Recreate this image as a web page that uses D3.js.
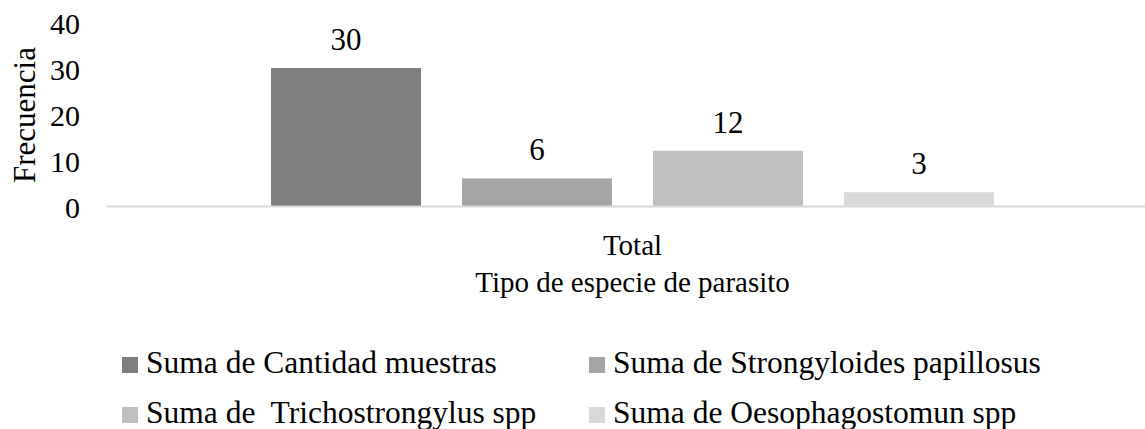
<!DOCTYPE html>
<html>
<head>
<meta charset="utf-8">
<script src="https://cdn.jsdelivr.net/npm/d3@7"></script>
<style>
  body { margin: 0; background: #fff; }
  svg text { font-family: "Liberation Serif", "Times New Roman", serif; fill: #000; }
</style>
</head>
<body>
<svg id="chart"></svg>
<script>
var categories = ["Total"];
var series = ["Suma de Cantidad muestras", "Suma de Strongyloides papillosus", "Suma de  Trichostrongylus spp", "Suma de Oesophagostomun spp"];
var values = [30, 6, 12, 3];
var colors = ["#7f7f7f", "#a5a5a5", "#bfbfbf", "#d9d9d9"];
var yTicks = [0, 10, 20, 30, 40];

var width = 1145, height = 429;
var svg = d3.select("#chart").attr("width", width).attr("height", height);

var plotLeft = 107, plotRight = 1158, plotTop = 22, plotBottom = 206;

var x0 = d3.scaleBand().domain(categories).range([plotLeft, plotRight]).paddingOuter(0.2268);
var x1 = d3.scaleBand().domain(series).range([0, x0.bandwidth()]).paddingInner(0.2147).paddingOuter(0);
var y = d3.scaleLinear().domain([0, 40]).range([plotBottom, plotTop]);

// y tick labels (no axis line in the original)
svg.append("g").selectAll("text")
    .data(yTicks)
  .enter().append("text")
    .attr("x", 80)
    .attr("y", function(d) { return y(d) + 12; })
    .attr("text-anchor", "end")
    .style("font-size", "30px")
    .text(function(d) { return d; });

// bars
var g = svg.append("g");
categories.forEach(function(c) {
  var grp = g.append("g").attr("transform", "translate(" + x0(c) + ",0)");
  grp.selectAll("rect")
      .data(series)
    .enter().append("rect")
      .attr("x", function(s) { return x1(s); })
      .attr("width", x1.bandwidth())
      .attr("y", function(s, i) { return y(values[i]); })
      .attr("height", function(s, i) { return y(0) - y(values[i]); })
      .attr("fill", function(s, i) { return colors[i]; });
  grp.selectAll("text")
      .data(series)
    .enter().append("text")
      .attr("x", function(s) { return x1(s) + x1.bandwidth() / 2; })
      .attr("y", function(s, i) { return y(values[i]) - 18; })
      .attr("text-anchor", "middle")
      .style("font-size", "31px")
      .text(function(s, i) { return values[i]; });
});

// x axis line
svg.append("line")
    .attr("x1", plotLeft).attr("x2", plotRight)
    .attr("y1", y(0) + 0.5).attr("y2", y(0) + 0.5)
    .attr("stroke", "#d9d9d9").attr("stroke-width", 2);

// category label
svg.selectAll(".cat")
    .data(categories)
  .enter().append("text")
    .attr("class", "cat")
    .attr("x", function(c) { return x0(c) + x0.bandwidth() / 2; })
    .attr("y", 255)
    .attr("text-anchor", "middle")
    .style("font-size", "29px")
    .text(function(c) { return c; });

// axis titles
svg.append("text")
    .attr("x", x0(categories[0]) + x0.bandwidth() / 2)
    .attr("y", 292)
    .attr("text-anchor", "middle")
    .style("font-size", "29px")
    .text("Tipo de especie de parasito");

svg.append("text")
    .attr("transform", "translate(35,115) rotate(-90)")
    .attr("text-anchor", "middle")
    .style("font-size", "31px")
    .text("Frecuencia");

// legend
var legend = svg.append("g").selectAll("g")
    .data(series)
  .enter().append("g")
    .attr("transform", function(s, i) {
      return "translate(" + (i % 2 ? 589 : 122) + "," + (i < 2 ? 373 : 423) + ")";
    });
legend.append("rect")
    .attr("x", 0).attr("y", -16)
    .attr("width", 16).attr("height", 16)
    .attr("fill", function(s, i) { return colors[i]; });
legend.append("text")
    .attr("x", 24)
    .attr("y", 0)
    .style("font-size", "31.5px")
    .style("white-space", "pre")
    .text(function(s) { return s; });
</script>
</body>
</html>
